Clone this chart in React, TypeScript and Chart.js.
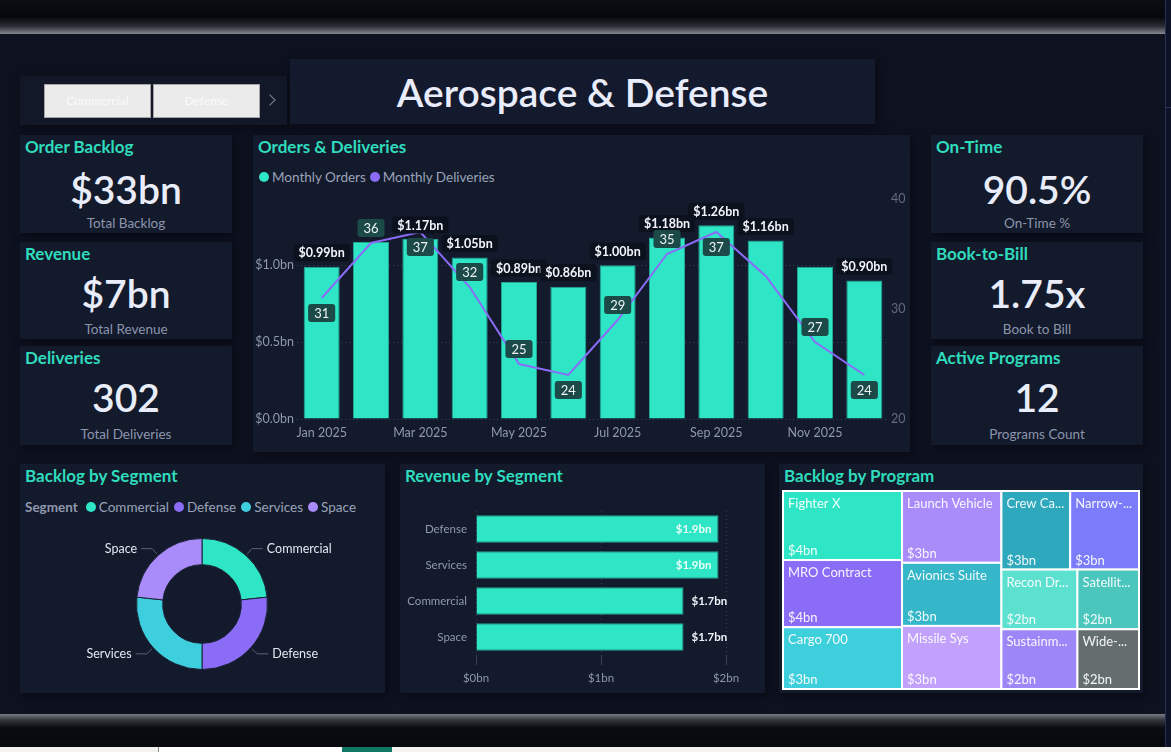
import React, { useEffect, useRef } from "react";
import { Chart, registerables } from "chart.js";

Chart.register(...registerables);

const FONT = 'Lato, "Open Sans", sans-serif';
Chart.defaults.font.family = FONT;

if (typeof document !== "undefined") {
  document.body.style.margin = "0";
  document.body.style.background = "#06080d";
}

// palette
const PAGE_BG = "#0e1220";
const CARD_BG = "#131a2c";
const TEAL = "#2ee6c6";
const PURPLE = "#8b6cf6";
const CYAN = "#3ecfdf";
const LAVENDER = "#a98bfa";
const TITLE_TEAL = "#2fdcbd";
const TEXT_MAIN = "#e9edf9";
const TEXT_SUB = "#8c95ac";
const AXIS_TEXT = "#8f98ad";
const GRID = "#3a4257";

// header
const dashboardTitle = "Aerospace & Defense";
const slicerItems = ["Commercial", "Defense"];

// KPI cards
const kpiLeftTitles = ["Order Backlog", "Revenue", "Deliveries"];
const kpiLeftValues = ["$33bn", "$7bn", "302"];
const kpiLeftCaptions = ["Total Backlog", "Total Revenue", "Total Deliveries"];
const kpiRightTitles = ["On-Time", "Book-to-Bill", "Active Programs"];
const kpiRightValues = ["90.5%", "1.75x", "12"];
const kpiRightCaptions = ["On-Time %", "Book to Bill", "Programs Count"];

// Orders & Deliveries
const months = [
  "Jan 2025", "Feb 2025", "Mar 2025", "Apr 2025", "May 2025", "Jun 2025",
  "Jul 2025", "Aug 2025", "Sep 2025", "Oct 2025", "Nov 2025", "Dec 2025",
];
const monthlyOrders = [0.99, 1.15, 1.17, 1.05, 0.89, 0.86, 1.0, 1.18, 1.26, 1.16, 0.99, 0.9]; // $bn
const monthlyDeliveries = [31, 36, 37, 32, 25, 24, 29, 35, 37, 33, 27, 24];
const orderLabelShown = [true, false, true, true, true, true, true, true, true, true, false, true];
// 1 = label under the point, -1 = above, 0 = no label
const deliveryLabelSide = [1, -1, 1, -1, -1, 1, -1, -1, 1, 0, -1, 1];

// Backlog by Segment ($bn)
const segments = ["Commercial", "Defense", "Services", "Space"];
const segmentBacklog = [7.7, 8.8, 8.8, 7.7];
const segmentColors = [TEAL, PURPLE, CYAN, LAVENDER];

// Revenue by Segment ($bn)
const revenueSegments = ["Defense", "Services", "Commercial", "Space"];
const revenueValues = [1.94, 1.94, 1.66, 1.66];

// Backlog by Program ($bn)
const programs = [
  "Fighter X", "MRO Contract", "Cargo 700", "Launch Vehicle", "Avionics Suite", "Missile Sys",
  "Crew Capsule", "Narrow-body Jet", "Recon Drone", "Sustainment", "Satellite Bus", "Wide-body Jet",
];
const programBacklog = [3.8, 3.7, 3.4, 3.3, 2.9, 2.9, 2.5, 2.5, 2.1, 2.1, 1.7, 1.7];
const programColors = [
  "#2ee6c6", "#8a6cf7", "#3ecfdc", "#a98bfa", "#35b6c9", "#c1a1fc",
  "#2ea8bc", "#7b7cfa", "#5ce0d0", "#9d86f8", "#4ac6bc", "#646e6e",
];

function roundRect(ctx: CanvasRenderingContext2D, x: number, y: number, w: number, h: number, r: number) {
  ctx.beginPath();
  ctx.moveTo(x + r, y);
  ctx.lineTo(x + w - r, y);
  ctx.quadraticCurveTo(x + w, y, x + w, y + r);
  ctx.lineTo(x + w, y + h - r);
  ctx.quadraticCurveTo(x + w, y + h, x + w - r, y + h);
  ctx.lineTo(x + r, y + h);
  ctx.quadraticCurveTo(x, y + h, x, y + h - r);
  ctx.lineTo(x, y + r);
  ctx.quadraticCurveTo(x, y, x + r, y);
  ctx.closePath();
}

function useChart(build: (canvas: HTMLCanvasElement) => Chart) {
  const ref = useRef<HTMLCanvasElement | null>(null);
  useEffect(() => {
    if (!ref.current) return;
    const chart = build(ref.current);
    return () => chart.destroy();
  }, []);
  return ref;
}

function Card(props: { x: number; y: number; w: number; h: number; bg?: string; children?: any }) {
  return (
    <div
      style={{
        position: "absolute",
        left: props.x,
        top: props.y,
        width: props.w,
        height: props.h,
        background: props.bg || CARD_BG,
        boxShadow: "3px 3px 10px rgba(0,0,0,0.45)",
      }}
    >
      {props.children}
    </div>
  );
}

function CardTitle({ text }: { text: string }) {
  return (
    <div
      style={{
        position: "absolute",
        left: 5,
        top: 2,
        lineHeight: "20px",
        fontSize: 17,
        fontWeight: 700,
        color: TITLE_TEAL,
        whiteSpace: "nowrap",
      }}
    >
      {text}
    </div>
  );
}

const kpiTops = [135, 242, 346];
const kpiHeights = [98, 97, 99];
const kpiValueCenter = [54, 51, 51];
const kpiCaptionCenter = [88, 87, 88];

function KpiCard({ x, i, title, value, caption }: { x: number; i: number; title: string; value: string; caption: string }) {
  return (
    <Card x={x} y={kpiTops[i]} w={212} h={kpiHeights[i]}>
      <CardTitle text={title} />
      <div
        style={{
          position: "absolute",
          left: 0,
          width: 212,
          top: kpiValueCenter[i] - 24,
          lineHeight: "48px",
          textAlign: "center",
          fontSize: 39,
          fontWeight: 600,
          color: TEXT_MAIN,
        }}
      >
        {value}
      </div>
      <div
        style={{
          position: "absolute",
          left: 0,
          width: 212,
          top: kpiCaptionCenter[i] - 9,
          lineHeight: "18px",
          textAlign: "center",
          fontSize: 13.5,
          color: TEXT_SUB,
        }}
      >
        {caption}
      </div>
    </Card>
  );
}

function LegendDot({ color, label, gap }: { color: string; label: string; gap: number }) {
  return (
    <div style={{ display: "flex", alignItems: "center", marginRight: gap }}>
      <div style={{ width: 10, height: 10, borderRadius: 5, background: color, marginRight: 3 }} />
      <span>{label}</span>
    </div>
  );
}

// ---------- Orders & Deliveries combo ----------
const comboLabels = {
  id: "comboLabels",
  afterDatasetsDraw(chart: any) {
    const ctx: CanvasRenderingContext2D = chart.ctx;
    const bars = chart.getDatasetMeta(0).data;
    const pts = chart.getDatasetMeta(1).data;
    ctx.save();
    ctx.textAlign = "center";
    ctx.textBaseline = "middle";
    ctx.font = `bold 12.5px ${FONT}`;
    bars.forEach((b: any, i: number) => {
      if (!orderLabelShown[i]) return;
      const txt = `$${monthlyOrders[i].toFixed(2)}bn`;
      const w = ctx.measureText(txt).width + 10;
      const cy = b.y - 14;
      roundRect(ctx, b.x - w / 2, cy - 8.5, w, 17, 3);
      ctx.fillStyle = "#0c111e";
      ctx.fill();
      ctx.fillStyle = "#f3f5fb";
      ctx.fillText(txt, b.x, cy + 0.5);
    });
    ctx.font = `13px ${FONT}`;
    pts.forEach((p: any, i: number) => {
      const side = deliveryLabelSide[i];
      if (!side) return;
      const txt = String(monthlyDeliveries[i]);
      const w = Math.max(26, ctx.measureText(txt).width + 12);
      const cy = p.y + side * 15;
      roundRect(ctx, p.x - w / 2, cy - 9, w, 18, 3);
      ctx.fillStyle = "#1b4a49";
      ctx.fill();
      ctx.fillStyle = "#eef4f3";
      ctx.fillText(txt, p.x, cy + 0.5);
    });
    ctx.restore();
  },
};

const isHalfStep = (v: number) => Math.abs(v * 2 - Math.round(v * 2)) < 1e-6;

function OrdersChart() {
  const ref = useChart(
    (canvas) =>
      new Chart(canvas, {
        type: "bar",
        data: {
          labels: months,
          datasets: [
            {
              type: "bar",
              label: "Monthly Orders",
              data: monthlyOrders,
              yAxisID: "y",
              backgroundColor: TEAL,
              borderColor: "#22a593",
              borderWidth: 1,
              barPercentage: 0.73,
              categoryPercentage: 1,
              order: 1,
            },
            {
              type: "line",
              label: "Monthly Deliveries",
              data: monthlyDeliveries,
              yAxisID: "y1",
              borderColor: PURPLE,
              borderWidth: 2,
              pointRadius: 0,
              tension: 0,
              order: 0,
            } as any,
          ],
        },
        options: {
          responsive: false,
          animation: false,
          layout: { padding: { top: 13 } },
          plugins: { legend: { display: false }, tooltip: { enabled: false } },
          scales: {
            x: {
              grid: { display: false, drawTicks: false },
              border: { display: false },
              ticks: {
                autoSkip: false,
                maxRotation: 0,
                color: AXIS_TEXT,
                font: { size: 12.5 },
                padding: 6,
                callback: (_v: any, i: number) => (i % 2 === 0 ? months[i] : ""),
              },
              afterFit: (s: any) => {
                s.height = 27;
              },
            },
            y: {
              position: "left",
              min: 0,
              max: 1.43,
              grid: {
                drawTicks: false,
                color: (c: any) => (c.tick && isHalfStep(c.tick.value) ? GRID : "rgba(0,0,0,0)"),
              },
              border: { display: false, dash: [1, 3] },
              ticks: {
                stepSize: 0.5,
                color: AXIS_TEXT,
                font: { size: 12.5 },
                padding: 3,
                callback: (v: any) => {
                  const n = Number(v);
                  return isHalfStep(n) ? `$${n.toFixed(1)}bn` : "";
                },
              },
              afterFit: (s: any) => {
                s.width = 44;
              },
            },
            y1: {
              position: "right",
              min: 20,
              max: 40,
              grid: { display: false, drawTicks: false },
              border: { display: false },
              ticks: { stepSize: 10, color: "#636b7f", font: { size: 12.5 }, padding: 2 },
              afterFit: (s: any) => {
                s.width = 21;
              },
            },
          },
        },
        plugins: [comboLabels],
      } as any)
  );
  return <canvas ref={ref} width={657} height={260} style={{ position: "absolute", left: 0, top: 51, width: 657, height: 260 }} />;
}

// ---------- Backlog by Segment donut ----------
const donutLabels = {
  id: "donutLabels",
  afterDatasetsDraw(chart: any) {
    const ctx: CanvasRenderingContext2D = chart.ctx;
    const meta = chart.getDatasetMeta(0);
    ctx.save();
    ctx.font = `12.5px ${FONT}`;
    ctx.textBaseline = "middle";
    meta.data.forEach((arc: any, i: number) => {
      const p = arc.getProps(["x", "y", "startAngle", "endAngle", "outerRadius"], true);
      const mid = (p.startAngle + p.endAngle) / 2;
      const c = Math.cos(mid);
      const s = Math.sin(mid);
      const x1 = p.x + c * (p.outerRadius + 2);
      const y1 = p.y + s * (p.outerRadius + 2);
      const x2 = p.x + c * (p.outerRadius + 9);
      const y2 = p.y + s * (p.outerRadius + 9);
      const right = c >= 0;
      const x3 = x2 + (right ? 11 : -11);
      ctx.strokeStyle = "#596072";
      ctx.lineWidth = 1;
      ctx.beginPath();
      ctx.moveTo(x1, y1);
      ctx.lineTo(x2, y2);
      ctx.lineTo(x3, y2);
      ctx.stroke();
      ctx.fillStyle = "#e3e7f0";
      ctx.textAlign = right ? "left" : "right";
      ctx.fillText(segments[i], x3 + (right ? 4 : -4), y2);
    });
    ctx.restore();
  },
};

function SegmentDonut() {
  const ref = useChart(
    (canvas) =>
      new Chart(canvas, {
        type: "doughnut",
        data: {
          labels: segments,
          datasets: [
            {
              data: segmentBacklog,
              backgroundColor: segmentColors,
              borderColor: "#1a2236",
              borderWidth: 1,
            },
          ],
        },
        options: {
          responsive: false,
          animation: false,
          cutout: "60%",
          layout: { padding: 12 },
          plugins: { legend: { display: false }, tooltip: { enabled: false } },
        },
        plugins: [donutLabels],
      } as any)
  );
  return <canvas ref={ref} width={324} height={156} style={{ position: "absolute", left: 20, top: 62, width: 324, height: 156 }} />;
}

// ---------- Revenue by Segment bars ----------
const revenueLabels = {
  id: "revenueLabels",
  afterDatasetsDraw(chart: any) {
    const ctx: CanvasRenderingContext2D = chart.ctx;
    const bars = chart.getDatasetMeta(0).data;
    ctx.save();
    ctx.font = `bold 11.5px ${FONT}`;
    ctx.textBaseline = "middle";
    bars.forEach((b: any, i: number) => {
      const txt = `$${revenueValues[i].toFixed(1)}bn`;
      const w = ctx.measureText(txt).width;
      if (b.x + 8 + w <= chart.width - 10) {
        ctx.textAlign = "left";
        ctx.fillStyle = "#f1f3f9";
        ctx.fillText(txt, b.x + 8, b.y);
      } else {
        ctx.textAlign = "right";
        ctx.fillStyle = "rgba(255,255,255,0.9)";
        ctx.fillText(txt, b.x - 7, b.y);
      }
    });
    ctx.restore();
  },
};

function RevenueBars() {
  const ref = useChart(
    (canvas) =>
      new Chart(canvas, {
        type: "bar",
        data: {
          labels: revenueSegments,
          datasets: [
            {
              data: revenueValues,
              backgroundColor: TEAL,
              borderColor: "#22a593",
              borderWidth: 1,
              barPercentage: 0.765,
              categoryPercentage: 1,
            },
          ],
        },
        options: {
          indexAxis: "y",
          responsive: false,
          animation: false,
          layout: { padding: { top: 14, right: 39 } },
          plugins: { legend: { display: false }, tooltip: { enabled: false } },
          scales: {
            x: {
              min: 0,
              max: 2,
              grid: { color: GRID, drawTicks: true, tickLength: 10 },
              border: { display: false, dash: [1, 3] },
              ticks: {
                stepSize: 1,
                color: AXIS_TEXT,
                font: { size: 11.5 },
                padding: 6,
                callback: (v: any) => `$${v}bn`,
              },
              afterFit: (s: any) => {
                s.height = 35;
              },
            },
            y: {
              grid: { display: false, drawTicks: false },
              border: { display: false },
              ticks: { color: AXIS_TEXT, font: { size: 11.5 }, padding: 9 },
              afterFit: (s: any) => {
                s.width = 76;
              },
            },
          },
        },
        plugins: [revenueLabels],
      } as any)
  );
  return <canvas ref={ref} width={365} height={195} style={{ position: "absolute", left: 0, top: 31, width: 365, height: 195 }} />;
}

// ---------- Backlog by Program treemap ----------
type Rect = { x0: number; y0: number; x1: number; y1: number; i: number };

function squarify(values: number[], x0: number, y0: number, x1: number, y1: number): Rect[] {
  const ratio = (1 + Math.sqrt(5)) / 2;
  const out: Rect[] = [];
  let value = values.reduce((a, b) => a + b, 0);
  let i0 = 0;
  let i1 = 0;
  const n = values.length;
  while (i0 < n) {
    const dx = x1 - x0;
    const dy = y1 - y0;
    let sum = values[i1++];
    let minV = sum;
    let maxV = sum;
    const alpha = Math.max(dy / dx, dx / dy) / (value * ratio);
    let beta = sum * sum * alpha;
    let minRatio = Math.max(maxV / beta, beta / minV);
    for (; i1 < n; ++i1) {
      const v = values[i1];
      sum += v;
      if (v < minV) minV = v;
      if (v > maxV) maxV = v;
      beta = sum * sum * alpha;
      const nr = Math.max(maxV / beta, beta / minV);
      if (nr > minRatio) {
        sum -= v;
        break;
      }
      minRatio = nr;
    }
    if (dx < dy) {
      const yb = y0 + (dy * sum) / value;
      let cx = x0;
      for (let k = i0; k < i1; k++) {
        const w = (dx * values[k]) / sum;
        out.push({ x0: cx, y0, x1: cx + w, y1: yb, i: k });
        cx += w;
      }
      y0 = yb;
    } else {
      const xb = x0 + (dx * sum) / value;
      let cy = y0;
      for (let k = i0; k < i1; k++) {
        const h = (dy * values[k]) / sum;
        out.push({ x0, y0: cy, x1: xb, y1: cy + h, i: k });
        cy += h;
      }
      x0 = xb;
    }
    value -= sum;
    i0 = i1;
  }
  return out;
}

function fitText(ctx: CanvasRenderingContext2D, text: string, maxW: number) {
  if (ctx.measureText(text).width <= maxW) return text;
  let t = text;
  while (t.length > 1 && ctx.measureText(t + "...").width > maxW) t = t.slice(0, -1);
  return t + "...";
}

const treemapCells = {
  id: "treemapCells",
  afterDatasetsDraw(chart: any) {
    const ctx: CanvasRenderingContext2D = chart.ctx;
    const area = chart.chartArea;
    const xs = chart.scales.x;
    const ys = chart.scales.y;
    const W = area.right - area.left;
    const H = area.bottom - area.top;
    const rects = squarify(programBacklog, 0, 0, W, H);
    ctx.save();
    rects.forEach((r) => {
      const left = xs.getPixelForValue(r.x0 / W);
      const right = xs.getPixelForValue(r.x1 / W);
      const top = ys.getPixelForValue(r.y0 / H);
      const bottom = ys.getPixelForValue(r.y1 / H);
      ctx.fillStyle = programColors[r.i];
      ctx.fillRect(left, top, right - left, bottom - top);
      ctx.strokeStyle = "#ffffff";
      ctx.lineWidth = 2;
      ctx.strokeRect(left, top, right - left, bottom - top);
      ctx.fillStyle = "rgba(255,255,255,0.93)";
      ctx.textAlign = "left";
      ctx.textBaseline = "middle";
      ctx.font = `13px ${FONT}`;
      ctx.fillText(fitText(ctx, programs[r.i], right - left - 10), left + 5, top + 13);
      ctx.fillText(`$${Math.round(programBacklog[r.i])}bn`, left + 5, bottom - 9);
    });
    ctx.restore();
  },
};

function ProgramTreemap() {
  const ref = useChart(
    (canvas) =>
      new Chart(canvas, {
        type: "scatter",
        data: { datasets: [] },
        options: {
          responsive: false,
          animation: false,
          layout: { padding: 1 },
          plugins: { legend: { display: false }, tooltip: { enabled: false } },
          scales: {
            x: { type: "linear", min: 0, max: 1, display: false },
            y: { type: "linear", min: 0, max: 1, reverse: true, display: false },
          },
        },
        plugins: [treemapCells],
      } as any)
  );
  return <canvas ref={ref} width={358} height={200} style={{ position: "absolute", left: 3, top: 26, width: 358, height: 200 }} />;
}

export default function App() {
  return (
    <div
      style={{
        position: "relative",
        width: 1171,
        height: 752,
        overflow: "hidden",
        background: "#06080d",
        fontFamily: FONT,
      }}
    >
      {/* window frame */}
      <div
        style={{
          position: "absolute",
          left: 0,
          top: 0,
          width: 1165,
          height: 34,
          background: "linear-gradient(180deg,#0c0e14 0%,#05070b 50%,#2e3037 78%,#86888f 100%)",
        }}
      />
      <div style={{ position: "absolute", left: 0, top: 34, width: 1165, height: 680, background: PAGE_BG }} />
      <div
        style={{
          position: "absolute",
          left: 0,
          top: 714,
          width: 1165,
          height: 33,
          background: "linear-gradient(180deg,#7a7c83 0%,#34363d 18%,#0a0c12 42%,#07090e 100%)",
        }}
      />
      <div style={{ position: "absolute", left: 1165, top: 0, width: 6, height: 747, background: "#0e1227", borderLeft: "1px solid #293056", boxSizing: "border-box" }} />
      <div style={{ position: "absolute", left: 1166, top: 107, width: 5, height: 1, background: "#2b3158" }} />
      <div style={{ position: "absolute", left: 0, top: 747, width: 1171, height: 5, background: "#f3f2f1" }} />
      <div style={{ position: "absolute", left: 158, top: 747, width: 1, height: 5, background: "#8a8886" }} />
      <div style={{ position: "absolute", left: 159, top: 747, width: 183, height: 5, background: "#ffffff" }} />
      <div style={{ position: "absolute", left: 342, top: 747, width: 50, height: 5, background: "#117865" }} />

      {/* segment slicer */}
      <Card x={20} y={76} w={267} h={49} bg="#121828">
        {slicerItems.map((s, i) => (
          <div
            key={s}
            style={{
              position: "absolute",
              left: 24 + i * 109,
              top: 8,
              width: 107,
              height: 34,
              boxSizing: "border-box",
              background: "#ebebeb",
              border: "1px solid #a3a3a3",
              color: "#fafafa",
              fontSize: 12,
              lineHeight: "32px",
              textAlign: "center",
            }}
          >
            {s}
          </div>
        ))}
        <div
          style={{
            position: "absolute",
            left: 246,
            top: 20,
            width: 7,
            height: 7,
            borderTop: "1px solid #7d8596",
            borderRight: "1px solid #7d8596",
            transform: "rotate(45deg)",
          }}
        />
      </Card>

      {/* title */}
      <Card x={290} y={59} w={585} h={65} bg="#141a2e">
        <div
          style={{
            position: "absolute",
            left: 0,
            width: 585,
            top: 9,
            lineHeight: "48px",
            textAlign: "center",
            fontSize: 39,
            fontWeight: 600,
            color: "#e8ecfb",
          }}
        >
          {dashboardTitle}
        </div>
      </Card>

      {kpiLeftTitles.map((t, i) => (
        <KpiCard key={t} x={20} i={i} title={t} value={kpiLeftValues[i]} caption={kpiLeftCaptions[i]} />
      ))}
      {kpiRightTitles.map((t, i) => (
        <KpiCard key={t} x={931} i={i} title={t} value={kpiRightValues[i]} caption={kpiRightCaptions[i]} />
      ))}

      {/* Orders & Deliveries */}
      <Card x={253} y={135} w={657} h={317}>
        <CardTitle text="Orders & Deliveries" />
        <div
          style={{
            position: "absolute",
            left: 6,
            top: 33,
            height: 18,
            display: "flex",
            alignItems: "center",
            fontSize: 13.5,
            color: "#9aa3b8",
            whiteSpace: "nowrap",
          }}
        >
          <LegendDot color={TEAL} label="Monthly Orders" gap={4} />
          <LegendDot color={PURPLE} label="Monthly Deliveries" gap={0} />
        </div>
        <OrdersChart />
      </Card>

      {/* Backlog by Segment */}
      <Card x={20} y={464} w={365} h={229}>
        <CardTitle text="Backlog by Segment" />
        <div
          style={{
            position: "absolute",
            left: 5,
            top: 34,
            height: 18,
            display: "flex",
            alignItems: "center",
            fontSize: 13.5,
            color: "#9aa3b8",
            whiteSpace: "nowrap",
          }}
        >
          <span style={{ fontWeight: 700, marginRight: 8, color: "#8f98ad" }}>Segment</span>
          {segments.map((s, i) => (
            <LegendDot key={s} color={segmentColors[i]} label={s} gap={5} />
          ))}
        </div>
        <SegmentDonut />
      </Card>

      {/* Revenue by Segment */}
      <Card x={400} y={464} w={365} h={229}>
        <CardTitle text="Revenue by Segment" />
        <RevenueBars />
      </Card>

      {/* Backlog by Program */}
      <Card x={779} y={464} w={364} h={229}>
        <CardTitle text="Backlog by Program" />
        <ProgramTreemap />
      </Card>
    </div>
  );
}
